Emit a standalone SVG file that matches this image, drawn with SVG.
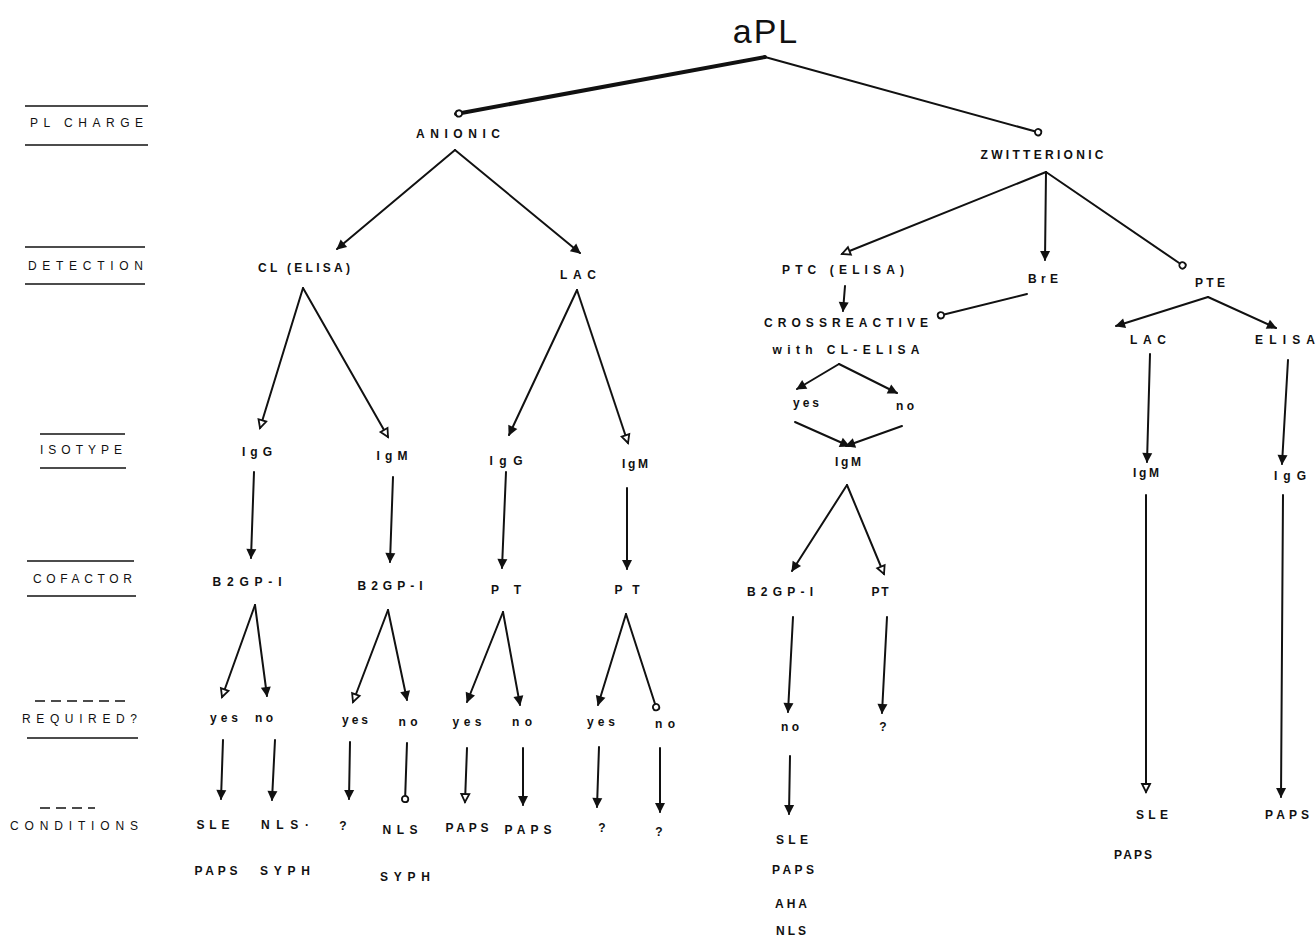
<svg xmlns="http://www.w3.org/2000/svg" width="1316" height="945" viewBox="0 0 1316 945">
<defs>
<style>
text{font-family:"Liberation Sans",Arial,sans-serif;font-weight:bold;font-size:12px;fill:#111;text-anchor:middle}
.title{font-size:34px;font-weight:normal;letter-spacing:2px}
.lab{text-anchor:start;font-weight:normal;font-size:12px}
.c{stroke:#111;stroke-width:2;fill:none;stroke-linecap:round}
.thick{stroke-width:4}
.rule{stroke:#111;stroke-width:1.6}
.dash{stroke:#111;stroke-width:1.6;stroke-dasharray:10 6}
</style>
<marker id="f" markerUnits="userSpaceOnUse" markerWidth="12" markerHeight="12" viewBox="0 0 12 12" refX="10" refY="6" orient="auto"><path d="M1,1 L11,6 L1,11 Z" fill="#111"/></marker>
<marker id="o" markerUnits="userSpaceOnUse" markerWidth="12" markerHeight="12" viewBox="0 0 12 12" refX="10" refY="6" orient="auto"><path d="M2,2 L10,6 L2,10 Z" fill="#fff" stroke="#111" stroke-width="1.8"/></marker>
<marker id="r" markerUnits="userSpaceOnUse" markerWidth="12" markerHeight="12" viewBox="0 0 12 12" refX="9" refY="6" orient="auto"><circle cx="6" cy="6" r="3.2" fill="#fff" stroke="#111" stroke-width="1.8"/></marker>
</defs>
<rect width="1316" height="945" fill="#fff"/>

<g id="row-labels">
<line class="rule" x1="25" y1="106" x2="148" y2="106"/>
<text class="lab" x="30" y="127" textLength="113" lengthAdjust="spacing">PL CHARGE</text>
<line class="rule" x1="25" y1="145" x2="148" y2="145"/>
<line class="rule" x1="25" y1="247" x2="145" y2="247"/>
<text class="lab" x="28" y="270" textLength="115" lengthAdjust="spacing">DETECTION</text>
<line class="rule" x1="25" y1="284" x2="145" y2="284"/>
<line class="rule" x1="40" y1="434" x2="125" y2="434"/>
<text class="lab" x="40" y="454" textLength="82" lengthAdjust="spacing">ISOTYPE</text>
<line class="rule" x1="40" y1="468" x2="126" y2="468"/>
<line class="rule" x1="27" y1="561" x2="134" y2="561"/>
<text class="lab" x="33" y="583" textLength="99" lengthAdjust="spacing">COFACTOR</text>
<line class="rule" x1="27" y1="596" x2="136" y2="596"/>
<line class="dash" x1="35" y1="701" x2="130" y2="701"/>
<text class="lab" x="22" y="723" textLength="115" lengthAdjust="spacing">REQUIRED?</text>
<line class="rule" x1="27" y1="738" x2="138" y2="738"/>
<line class="dash" x1="40" y1="808" x2="95" y2="808"/>
<text class="lab" x="10" y="830" textLength="128" lengthAdjust="spacing">CONDITIONS</text>
</g>

<g id="connectors">
<line class="c thick" x1="765" y1="57" x2="456" y2="114" marker-end="url(#r)"/>
<line class="c" x1="765" y1="57" x2="1041" y2="133" marker-end="url(#r)"/>
<line class="c" x1="455" y1="150" x2="337" y2="249" marker-end="url(#f)"/>
<line class="c" x1="455" y1="150" x2="580" y2="253" marker-end="url(#f)"/>
<line class="c" x1="1046" y1="172" x2="842" y2="254" marker-end="url(#o)"/>
<line class="c" x1="1046" y1="172" x2="1045" y2="260" marker-end="url(#f)"/>
<line class="c" x1="1046" y1="172" x2="1185" y2="267" marker-end="url(#r)"/>
<line class="c" x1="845" y1="286" x2="843" y2="311" marker-end="url(#f)"/>
<line class="c" x1="1027" y1="294" x2="938" y2="316" marker-end="url(#r)"/>
<line class="c" x1="839" y1="364" x2="797" y2="389" marker-end="url(#f)"/>
<line class="c" x1="839" y1="364" x2="897" y2="393" marker-end="url(#f)"/>
<line class="c" x1="795" y1="422" x2="849" y2="446" marker-end="url(#f)"/>
<line class="c" x1="902" y1="426" x2="846" y2="446" marker-end="url(#f)"/>
<line class="c" x1="847" y1="485" x2="792" y2="571" marker-end="url(#f)"/>
<line class="c" x1="847" y1="485" x2="884" y2="574" marker-end="url(#o)"/>
<line class="c" x1="793" y1="617" x2="788" y2="712" marker-end="url(#f)"/>
<line class="c" x1="887" y1="617" x2="882" y2="713" marker-end="url(#f)"/>
<line class="c" x1="790" y1="756" x2="789" y2="814" marker-end="url(#f)"/>
<line class="c" x1="1208" y1="297" x2="1116" y2="326" marker-end="url(#f)"/>
<line class="c" x1="1208" y1="297" x2="1276" y2="328" marker-end="url(#f)"/>
<line class="c" x1="1150" y1="354" x2="1147" y2="462" marker-end="url(#f)"/>
<line class="c" x1="1288" y1="360" x2="1282" y2="464" marker-end="url(#f)"/>
<line class="c" x1="1146" y1="495" x2="1146" y2="792" marker-end="url(#o)"/>
<line class="c" x1="1283" y1="495" x2="1281" y2="797" marker-end="url(#f)"/>
<line class="c" x1="303" y1="288" x2="260" y2="428" marker-end="url(#o)"/>
<line class="c" x1="303" y1="288" x2="388" y2="437" marker-end="url(#o)"/>
<line class="c" x1="577" y1="290" x2="509" y2="435" marker-end="url(#f)"/>
<line class="c" x1="577" y1="290" x2="628" y2="443" marker-end="url(#o)"/>
<line class="c" x1="254" y1="472" x2="251" y2="558" marker-end="url(#f)"/>
<line class="c" x1="393" y1="477" x2="390" y2="562" marker-end="url(#f)"/>
<line class="c" x1="506" y1="472" x2="502" y2="568" marker-end="url(#f)"/>
<line class="c" x1="627" y1="488" x2="627" y2="569" marker-end="url(#f)"/>
<line class="c" x1="255" y1="605" x2="222" y2="697" marker-end="url(#o)"/>
<line class="c" x1="255" y1="605" x2="267" y2="696" marker-end="url(#f)"/>
<line class="c" x1="388" y1="610" x2="353" y2="702" marker-end="url(#o)"/>
<line class="c" x1="388" y1="610" x2="407" y2="700" marker-end="url(#f)"/>
<line class="c" x1="503" y1="612" x2="467" y2="702" marker-end="url(#f)"/>
<line class="c" x1="503" y1="612" x2="520" y2="705" marker-end="url(#f)"/>
<line class="c" x1="626" y1="614" x2="598" y2="705" marker-end="url(#f)"/>
<line class="c" x1="626" y1="614" x2="657" y2="710" marker-end="url(#r)"/>
<line class="c" x1="223" y1="740" x2="221" y2="799" marker-end="url(#f)"/>
<line class="c" x1="275" y1="740" x2="272" y2="800" marker-end="url(#f)"/>
<line class="c" x1="350" y1="742" x2="349" y2="799" marker-end="url(#f)"/>
<line class="c" x1="407" y1="743" x2="405" y2="802" marker-end="url(#r)"/>
<line class="c" x1="467" y1="748" x2="465" y2="802" marker-end="url(#o)"/>
<line class="c" x1="523" y1="748" x2="523" y2="805" marker-end="url(#f)"/>
<line class="c" x1="599" y1="747" x2="597" y2="807" marker-end="url(#f)"/>
<line class="c" x1="660" y1="748" x2="660" y2="812" marker-end="url(#f)"/>
</g>

<g id="n-aPL"><text class="title" x="766" y="43">aPL</text></g>
<g id="n-anionic"><text x="458" y="138" textLength="84" lengthAdjust="spacing">ANIONIC</text></g>
<g id="n-zwitterionic"><text x="1042" y="159" textLength="123" lengthAdjust="spacing">ZWITTERIONIC</text></g>
<g id="n-cl-elisa"><text x="304" y="272" textLength="92" lengthAdjust="spacing">CL (ELISA)</text></g>
<g id="n-lac1"><text x="578" y="279" textLength="36" lengthAdjust="spacing">LAC</text></g>
<g id="n-ptc"><text x="843" y="274" textLength="122" lengthAdjust="spacing">PTC (ELISA)</text></g>
<g id="n-bre"><text x="1043" y="283" textLength="30" lengthAdjust="spacing">BrE</text></g>
<g id="n-pte"><text x="1210" y="287" textLength="30" lengthAdjust="spacing">PTE</text></g>
<g id="n-crossreactive"><text x="846" y="327" textLength="164" lengthAdjust="spacing">CROSSREACTIVE</text><text x="846" y="354" textLength="147" lengthAdjust="spacing">with CL-ELISA</text></g>
<g id="n-cr-yes"><text x="806" y="407" textLength="26" lengthAdjust="spacing">yes</text></g>
<g id="n-cr-no"><text x="905" y="410" textLength="18" lengthAdjust="spacing">no</text></g>
<g id="n-igm-z"><text x="848" y="466" textLength="26" lengthAdjust="spacing">IgM</text></g>
<g id="n-lac2"><text x="1148" y="344" textLength="36" lengthAdjust="spacing">LAC</text></g>
<g id="n-elisa"><text x="1285" y="344" textLength="60" lengthAdjust="spacing">ELISA</text></g>
<g id="n-igm-r"><text x="1146" y="477" textLength="26" lengthAdjust="spacing">IgM</text></g>
<g id="n-igg-r"><text x="1290" y="480" textLength="32" lengthAdjust="spacing">IgG</text></g>
<g id="n-b2gp-z"><text x="780" y="596" textLength="66" lengthAdjust="spacing">B2GP-I</text></g>
<g id="n-pt-z"><text x="880" y="596" textLength="17" lengthAdjust="spacing">PT</text></g>
<g id="n-no-z"><text x="790" y="731" textLength="18" lengthAdjust="spacing">no</text></g>
<g id="n-q-z"><text x="883" y="731">?</text></g>
<g id="n-cond-z"><text x="792" y="844" textLength="32" lengthAdjust="spacing">SLE</text><text x="793" y="874" textLength="42" lengthAdjust="spacing">PAPS</text><text x="791" y="908" textLength="32" lengthAdjust="spacing">AHA</text><text x="791" y="935" textLength="30" lengthAdjust="spacing">NLS</text></g>
<g id="n-sle-r"><text x="1152" y="819" textLength="32" lengthAdjust="spacing">SLE</text><text x="1133" y="859" textLength="38" lengthAdjust="spacing">PAPS</text></g>
<g id="n-paps-r"><text x="1287" y="819" textLength="44" lengthAdjust="spacing">PAPS</text></g>
<g id="n-igg1"><text x="257" y="456" textLength="30" lengthAdjust="spacing">IgG</text></g>
<g id="n-igm1"><text x="392" y="460" textLength="31" lengthAdjust="spacing">IgM</text></g>
<g id="n-igg2"><text x="506" y="465" textLength="33" lengthAdjust="spacing">IgG</text></g>
<g id="n-igm2"><text x="635" y="468" textLength="26" lengthAdjust="spacing">IgM</text></g>
<g id="n-b2gp1"><text x="247" y="586" textLength="69" lengthAdjust="spacing">B2GP-I</text></g>
<g id="n-b2gp2"><text x="390" y="590" textLength="65" lengthAdjust="spacing">B2GP-I</text></g>
<g id="n-pt1"><text x="506" y="594" textLength="30" lengthAdjust="spacing">PT</text></g>
<g id="n-pt2"><text x="627" y="594" textLength="25" lengthAdjust="spacing">PT</text></g>
<g id="n-yes1"><text x="224" y="722" textLength="28" lengthAdjust="spacing">yes</text></g>
<g id="n-no1"><text x="264" y="722" textLength="18" lengthAdjust="spacing">no</text></g>
<g id="n-yes2"><text x="355" y="724" textLength="26" lengthAdjust="spacing">yes</text></g>
<g id="n-no2"><text x="408" y="726" textLength="19" lengthAdjust="spacing">no</text></g>
<g id="n-yes3"><text x="467" y="726" textLength="29" lengthAdjust="spacing">yes</text></g>
<g id="n-no3"><text x="522" y="726" textLength="20" lengthAdjust="spacing">no</text></g>
<g id="n-yes4"><text x="601" y="726" textLength="28" lengthAdjust="spacing">yes</text></g>
<g id="n-no4"><text x="665" y="728" textLength="20" lengthAdjust="spacing">no</text></g>
<g id="n-cond1"><text x="213" y="829" textLength="33" lengthAdjust="spacing">SLE</text><text x="216" y="875" textLength="43" lengthAdjust="spacing">PAPS</text></g>
<g id="n-cond2"><text x="285" y="829" textLength="48" lengthAdjust="spacing">NLS·</text><text x="285" y="875" textLength="50" lengthAdjust="spacing">SYPH</text></g>
<g id="n-cond3"><text x="343" y="830">?</text></g>
<g id="n-cond4"><text x="400" y="834" textLength="35" lengthAdjust="spacing">NLS</text><text x="405" y="881" textLength="50" lengthAdjust="spacing">SYPH</text></g>
<g id="n-cond5"><text x="467" y="832" textLength="43" lengthAdjust="spacing">PAPS</text></g>
<g id="n-cond6"><text x="528" y="834" textLength="47" lengthAdjust="spacing">PAPS</text></g>
<g id="n-cond7"><text x="602" y="832">?</text></g>
<g id="n-cond8"><text x="659" y="836">?</text></g>
</svg>
